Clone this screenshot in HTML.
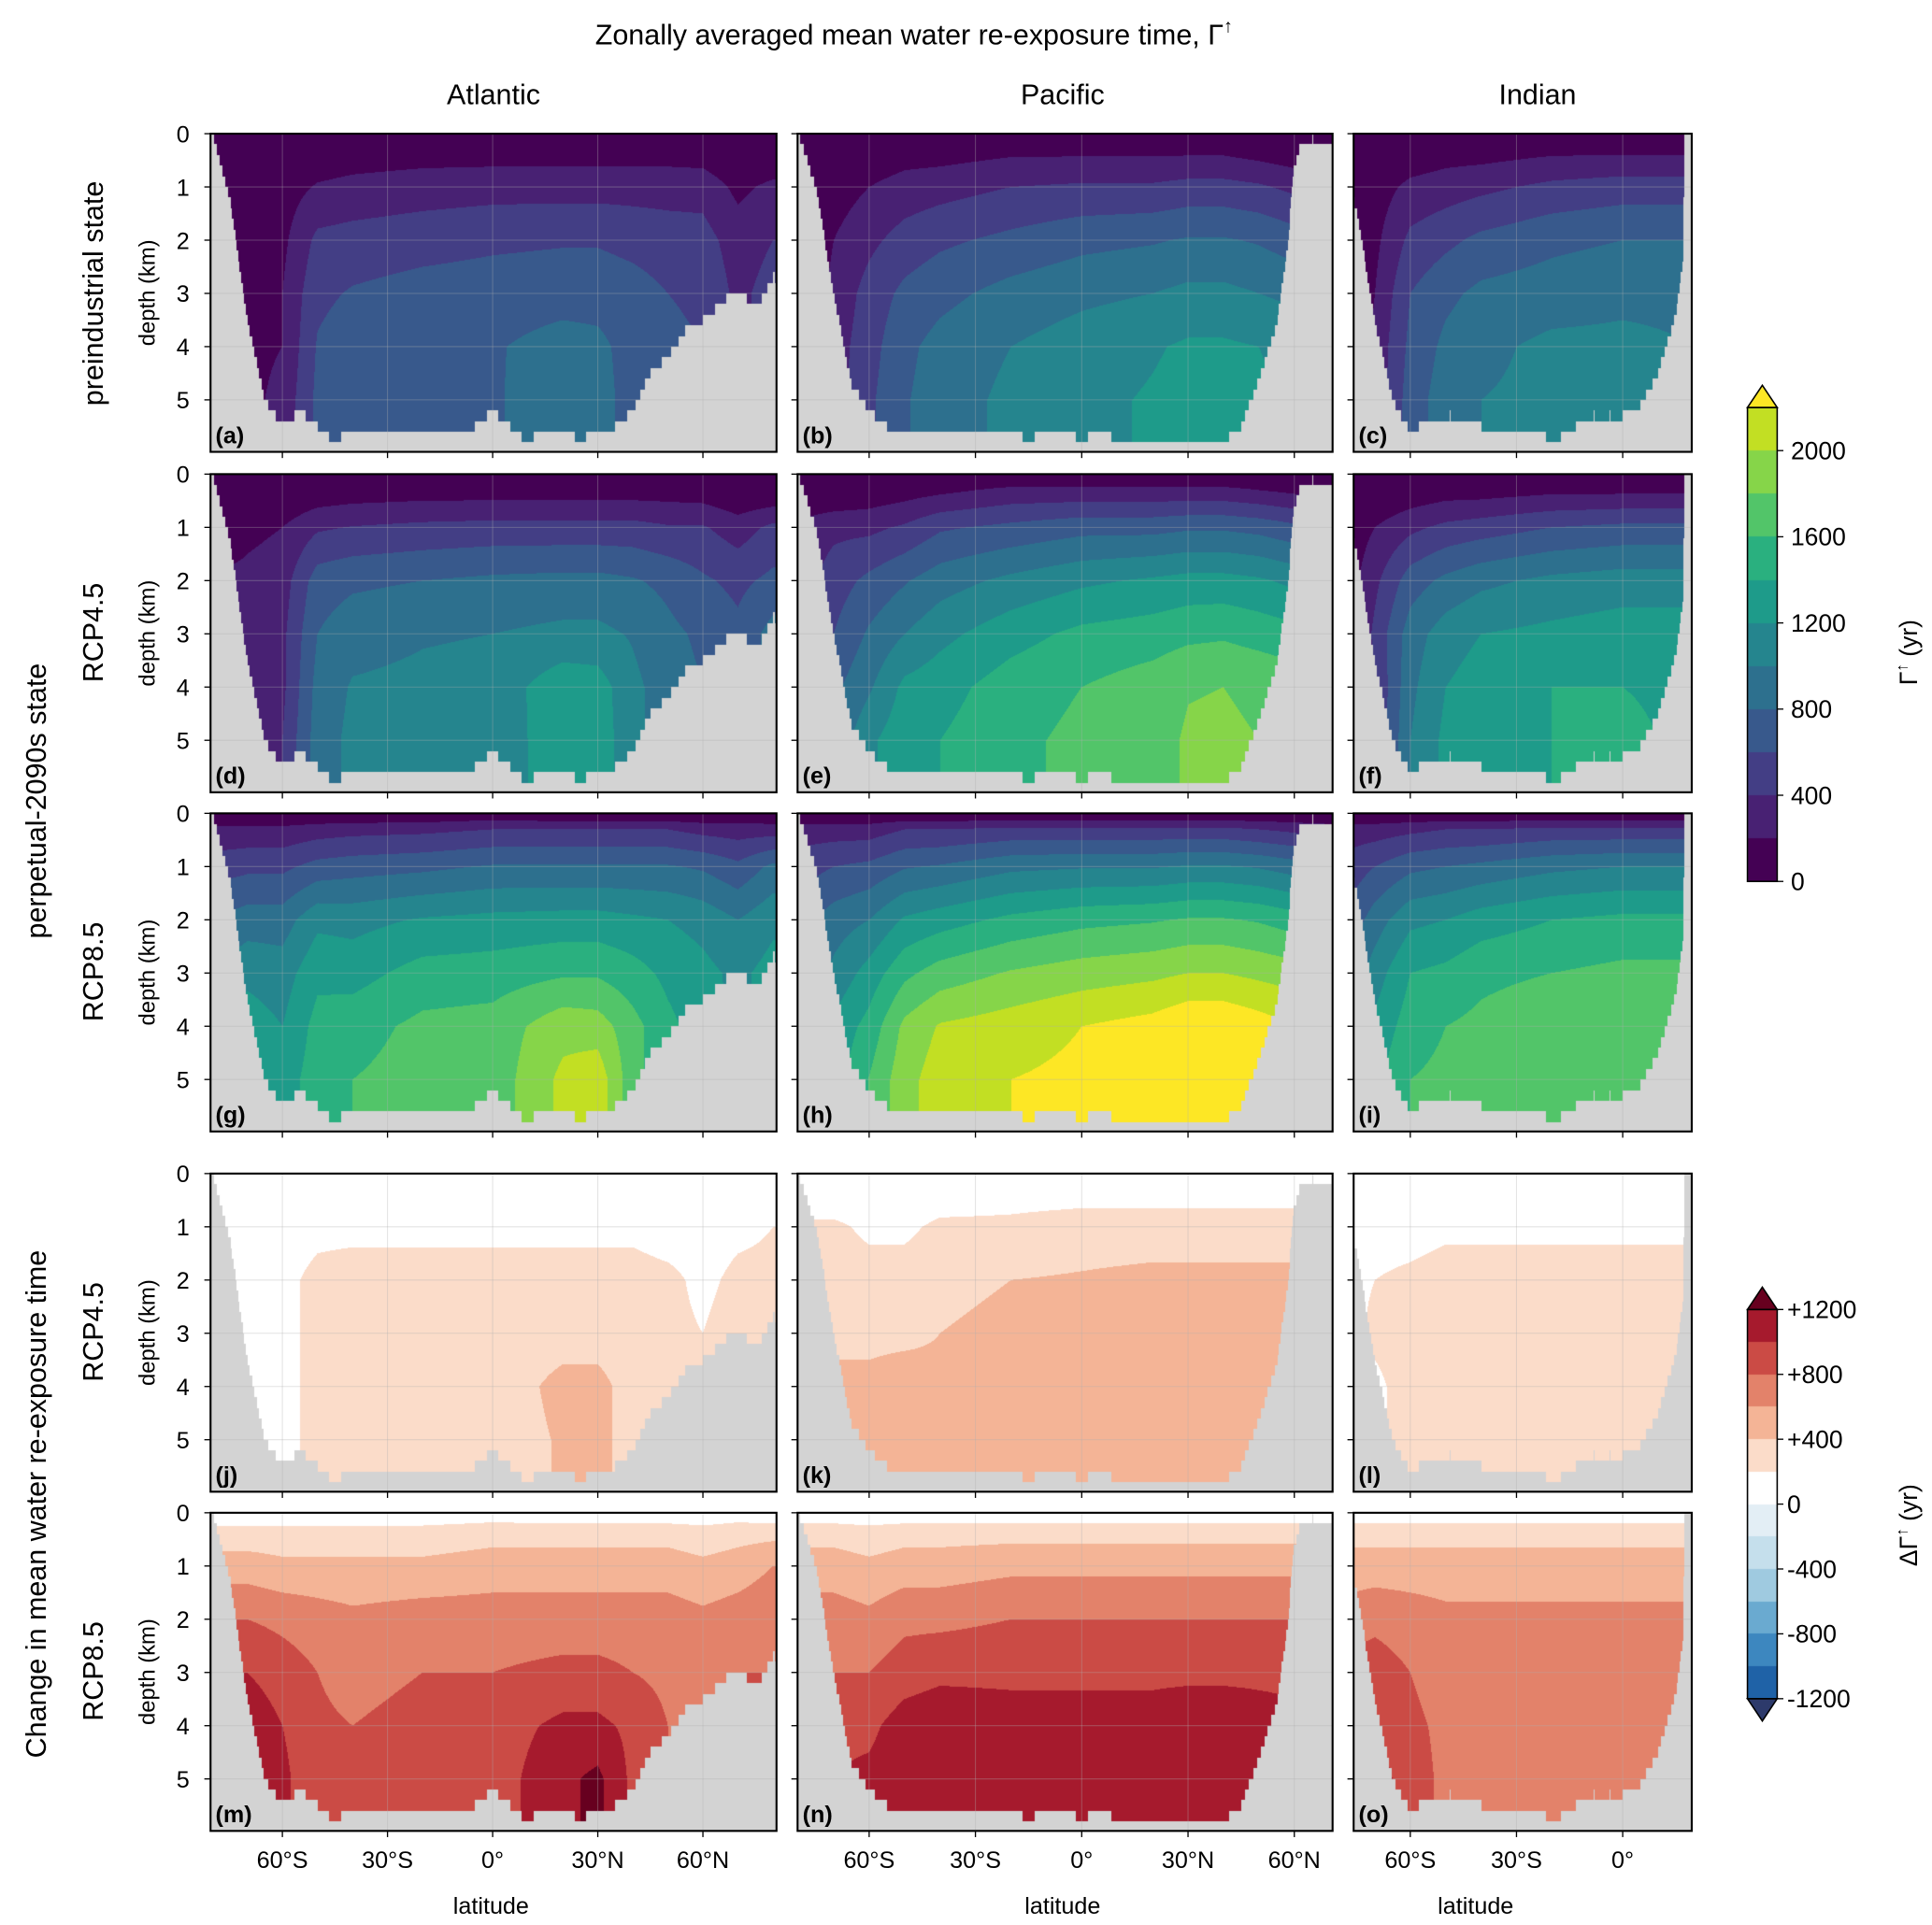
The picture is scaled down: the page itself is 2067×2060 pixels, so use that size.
<!DOCTYPE html>
<html><head><meta charset="utf-8">
<style>
html,body{margin:0;padding:0;background:#fff;}
#wrap{position:relative;width:2067px;height:2060px;overflow:hidden;}
canvas,svg{position:absolute;left:0;top:0;}
svg text{font-family:"Liberation Sans",Arial,sans-serif;fill:#000;}
</style></head>
<body>
<div id="wrap">
<canvas id="cv" width="2067" height="2060"></canvas>
<svg id="sv" width="2067" height="2060" viewBox="0 0 1560 1555" preserveAspectRatio="none"></svg>
</div>
<script>
// ---------- data ----------
const depthNodes = [0, 0.3, 1, 2, 3, 4, 5, 6];
const atlLats = [-80,-70,-60,-50,-40,-20,0,20,30,40,50,60,70,80];
const pacLats = [-80,-70,-60,-50,-40,-20,0,20,30,40,50,60,70];
const indLats = [-76,-70,-60,-50,-40,-20,0,20];

const atlBase = [
[0,0,0,0,0,0,0,0],[0,0,50,100,150,150,150,150],[0,0,100,150,200,200,250,250],
[0,50,220,450,550,620,650,650],[0,80,260,480,620,720,750,750],[0,100,300,520,680,750,780,780],
[0,100,320,560,700,780,780,780],[0,100,320,580,720,880,900,900],[0,100,320,580,720,850,880,880],
[0,100,320,540,680,720,720,720],[0,100,320,500,600,650,650,650],[0,80,320,480,560,600,600,600],
[0,0,150,300,350,350,350,350],[0,0,250,400,480,480,480,480]];
const atlD45 = [
[0,0,0,250,250,250,250,250],[0,0,100,150,150,150,150,150],[0,0,100,150,150,150,150,150],
[0,0,150,250,250,250,250,250],[0,0,150,280,300,300,300,300],[0,0,150,280,300,300,300,300],
[0,0,150,280,300,300,300,300],[0,0,150,280,330,450,420,420],[0,0,150,280,330,450,450,450],
[0,0,150,280,300,330,330,330],[0,0,100,250,250,250,250,250],[0,0,100,150,200,200,200,200],
[0,0,150,250,300,300,300,300],[0,0,200,250,400,400,400,400]];
const atlD85 = [
[0,250,500,800,1000,1100,1200,1200],[0,250,500,800,1000,1150,1250,1250],[0,250,450,750,900,1000,1050,1050],
[0,250,450,700,800,850,850,850],[0,250,450,650,700,800,850,850],[0,250,450,700,800,900,900,900],
[50,300,500,700,800,900,900,900],[0,300,500,700,850,1050,1150,1150],[0,300,500,700,850,1050,1250,1250],
[0,300,500,700,800,950,950,950],[0,300,500,700,750,800,800,800],[0,250,450,650,700,700,700,700],
[50,300,500,700,800,800,800,800],[0,300,600,750,800,800,800,800]];

const pacBase = [
[0,0,0,0,0,0,0,0],[0,0,100,200,250,300,300,300],[0,50,200,350,480,520,560,560],
[0,100,280,480,650,750,780,780],[0,100,320,560,740,870,900,900],[0,150,400,650,870,1000,1050,1050],
[0,150,430,740,950,1100,1150,1150],[0,150,430,780,1000,1180,1220,1220],[0,150,470,820,1050,1230,1260,1260],
[0,150,470,820,1050,1230,1260,1260],[0,100,430,780,1000,1200,1230,1230],[0,50,350,700,950,1150,1180,1180],
[0,0,0,0,0,0,0,0]];
const pacD45 = [
[0,0,250,300,350,400,450,450],[0,0,250,300,350,450,550,550],[0,0,150,300,350,450,600,600],
[0,0,150,300,350,500,550,550],[0,50,250,350,400,450,500,500],[0,100,250,400,450,500,500,500],
[0,100,300,420,500,500,500,500],[0,100,300,450,500,520,520,520],[0,100,300,450,500,560,560,560],
[0,100,300,450,520,570,570,570],[0,100,300,450,520,570,570,570],[0,100,300,450,520,570,570,570],
[0,100,300,450,520,570,570,570]];
const pacD85 = [
[0,300,500,700,800,900,1000,1000],[0,300,500,700,800,950,1000,1000],[0,250,450,650,800,950,1050,1050],
[0,300,500,750,900,1100,1150,1150],[0,300,500,750,950,1150,1200,1200],[0,300,550,800,950,1100,1150,1150],
[0,300,550,800,950,1100,1100,1100],[0,300,550,800,950,1100,1150,1150],[0,300,550,800,950,1150,1180,1180],
[0,300,550,800,950,1150,1180,1180],[0,300,550,800,950,1100,1150,1150],[0,300,550,800,950,1050,1050,1050],
[0,300,550,800,950,1000,1000,1000]];

const indBase = [
[0,0,0,0,0,0,0,0],[0,0,100,150,200,250,250,250],[0,50,250,450,600,650,700,700],
[0,100,300,550,750,850,900,900],[0,100,350,650,850,950,1000,1000],[0,150,450,750,900,1050,1050,1050],
[0,150,500,800,950,1050,1100,1100],[0,150,500,800,950,1000,1000,1000]];
const indD45 = [
[0,0,100,150,150,150,150,150],[0,0,100,200,250,150,150,150],[0,0,100,250,300,300,300,300],
[0,0,150,300,350,350,350,350],[0,0,150,300,350,350,350,350],[0,0,150,300,350,350,350,350],
[0,0,150,300,350,350,350,350],[0,0,150,300,350,350,350,350]];
const indD85 = [
[0,300,500,700,900,1000,1100,1100],[0,300,500,750,900,1000,1100,1100],[0,300,500,700,800,850,900,900],
[0,300,500,650,700,750,750,750],[0,300,500,650,700,700,700,700],[0,300,500,650,700,700,700,700],
[0,300,500,650,700,700,700,700],[0,300,500,650,700,700,700,700]];

// bathymetry (km)
const atlBathyLats = [-80,-75,-70,-65,-60,-55,-50,-45,-40,-35,-30,-25,-20,-15,-10,-5,0,5,10,15,20,25,30,35,40,45,50,55,60,65,70,75,80,85];
const atlBathy = [0,1.2,3.5,5.0,5.5,5.2,5.5,5.8,5.5,5.5,5.5,5.5,5.5,5.5,5.5,5.5,5.2,5.5,5.8,5.5,5.5,5.8,5.5,5.5,5.2,4.5,4.2,3.7,3.5,3.2,2.9,3.3,2.7,2.7];
const pacBathyLats = [-80,-75,-70,-65,-60,-55,-50,-45,-40,-35,-30,-25,-20,-15,-10,-5,0,5,10,15,20,25,30,35,40,45,50,55,58,60,62,65,70,75];
const pacBathy = [0,1.0,3.0,4.7,5.2,5.5,5.5,5.5,5.5,5.5,5.5,5.5,5.5,5.8,5.5,5.5,5.8,5.5,5.8,5.8,5.8,5.8,5.8,5.8,5.8,5.5,4.6,3.6,2.2,0.6,0.2,0.1,0.1,0.1];
const indBathyLats = [-80,-75,-70,-65,-60,-55,-50,-45,-40,-35,-30,-25,-20,-15,-10,-5,0,5,10,15,17,17.5,20,25];
const indBathy = [0,1.5,3.5,5.0,5.6,5.4,5.3,5.3,5.5,5.5,5.5,5.5,5.8,5.6,5.3,5.3,5.3,5.1,4.5,3.4,2.4,0,0,0];

const viridis = ["#440154","#482173","#433e85","#38598c","#2d708e","#25858e","#1e9b8a","#2ab07f","#52c569","#86d549","#c2df23","#fde725"];
const reds = ["#ffffff","#fbdcc9","#f4b496","#e3826a","#cb4b45","#a61a2d","#67001f"];
const viridisTicks = [0,400,800,1200,1600,2000];
const divTicks = ["+1200","+800","+400","0","-400","-800","-1200"];
const divTickVals = [1200,800,400,0,-400,-800,-1200];
const blues = ["#e3eef5","#c5dfec","#9fcae0","#6aaad0","#3d87bf","#1f62a7","#2d3a6b"];

// ---------- layout ----------
const cols = [
 {name:"Atlantic", x0:170, x1:627, latL:-80.5, latR:81, lats:atlLats, bl:atlBathyLats, bd:atlBathy,
  base:atlBase, d45:atlD45, d85:atlD85, ticks:[-60,-30,0,30,60]},
 {name:"Pacific", x0:644, x1:1076, latL:-80.2, latR:70.8, lats:pacLats, bl:pacBathyLats, bd:pacBathy,
  base:pacBase, d45:pacD45, d85:pacD85, ticks:[-60,-30,0,30,60]},
 {name:"Indian", x0:1093, x1:1366, latL:-76, latR:19.5, lats:indLats, bl:indBathyLats, bd:indBathy,
  base:indBase, d45:indD45, d85:indD85, ticks:[-60,-30,0]}
];
const rowsY = [108,383,657,948,1222];
const PH = 257, KM = 43;
const letters = "abcdefghijklmno";
const S = 2067/1560, SY = 2060/1555;

function xOfLat(c, lat){ return c.x0 + (lat - c.latL)/(c.latR - c.latL)*(c.x1 - c.x0); }
function yOfDepth(r, d){ return rowsY[r] + d*KM; }

function idx(arr, v){
  if (v <= arr[0]) return [0,0];
  for (let i=0;i<arr.length-1;i++) if (v <= arr[i+1]) return [i,(v-arr[i])/(arr[i+1]-arr[i])];
  return [arr.length-2,1];
}
function field(grid, lats, lat, d){
  const [i,fi] = idx(lats, lat), [j,fj] = idx(depthNodes, d);
  const a = grid[i][j], b = grid[i][j+1], c = grid[i+1][j], e = grid[i+1][j+1];
  return (a*(1-fj)+b*fj)*(1-fi) + (c*(1-fj)+e*fj)*fi;
}
function bottom(c, lat){
  const [i,f] = idx(c.bl, lat);
  const v = c.bd[i]*(1-f) + c.bd[i+1]*f;
  return Math.round(v*5)/5;
}
function hex(h){ return [parseInt(h.slice(1,3),16),parseInt(h.slice(3,5),16),parseInt(h.slice(5,7),16)]; }
const virRGB = viridis.map(hex), redRGB = reds.map(hex), bluRGB = blues.map(hex);
const LAND = [211,211,211];

// ---------- draw fields ----------
const cv = document.getElementById('cv');
const ctx = cv.getContext('2d');
const img = ctx.createImageData(2067,2060);
const D = img.data;
for (let px=0; px<2067*2060*4; px++) D[px]=255;
for (let r=0;r<5;r++){
  for (const c of cols){
    const X0 = Math.round(c.x0*S), X1 = Math.round(c.x1*S);
    const Y0 = Math.round(rowsY[r]*SY), Y1 = Math.round((rowsY[r]+PH)*SY);
    for (let X=X0; X<X1; X++){
      const lat = c.latL + ((X+0.5)/S - c.x0)/(c.x1-c.x0)*(c.latR-c.latL);
      const bot = bottom(c, lat);
      for (let Y=Y0; Y<Y1; Y++){
        const d = ((Y+0.5)/SY - rowsY[r])/KM;
        let col;
        if (d > bot) col = LAND;
        else {
          const b = field(c.base, c.lats, lat, d);
          if (r===0) col = virRGB[Math.max(0,Math.min(11,Math.floor(b/200)))];
          else if (r===1) col = virRGB[Math.max(0,Math.min(11,Math.floor((b+field(c.d45,c.lats,lat,d))/200)))];
          else if (r===2) col = virRGB[Math.max(0,Math.min(11,Math.floor((b+field(c.d85,c.lats,lat,d))/200)))];
          else {
            const dv = field(r===3?c.d45:c.d85, c.lats, lat, d);
            if (dv >= 0) col = redRGB[Math.min(6,Math.floor(dv/200))];
            else col = bluRGB[Math.min(6,Math.floor(-dv/200))];
          }
        }
        const k = (Y*2067+X)*4;
        D[k]=col[0]; D[k+1]=col[1]; D[k+2]=col[2]; D[k+3]=255;
      }
    }
  }
}
function fillRectImg(x0,y0,x1,y1,col){
  for (let Y=Math.round(y0*SY); Y<Math.round(y1*SY); Y++)
    for (let X=Math.round(x0*S); X<Math.round(x1*S); X++){
      const k=(Y*2067+X)*4; D[k]=col[0];D[k+1]=col[1];D[k+2]=col[2];
    }
}
const cbx0=1411, cbx1=1435, cb1bot=712, cbStep=69.6/2;
for (let i=0;i<11;i++) fillRectImg(cbx0, cb1bot-(i+1)*cbStep, cbx1, cb1bot-i*cbStep, virRGB[i]);
const cb2zero=1215, cb2step=26.2;
for (let i=0;i<6;i++){
  fillRectImg(cbx0, cb2zero-(i+1)*cb2step, cbx1, cb2zero-i*cb2step, redRGB[i]);
  fillRectImg(cbx0, cb2zero+i*cb2step, cbx1, cb2zero+(i+1)*cb2step, bluRGB[i]);
}
ctx.putImageData(img,0,0);

// ---------- SVG annotations ----------
const NS = "http://www.w3.org/2000/svg";
const sv = document.getElementById('sv');
function el(tag, attrs, parent){
  const e = document.createElementNS(NS, tag);
  for (const k in attrs) e.setAttribute(k, attrs[k]);
  (parent||sv).appendChild(e); return e;
}
function txt(s, x, y, size, opts){
  opts = opts||{};
  const t = el('text', {x:x, y:y, 'font-size':size, 'text-anchor':opts.anchor||'middle', 'font-weight':opts.bold?'bold':'normal'});
  if (opts.rot) t.setAttribute('transform','rotate(-90 '+x+' '+y+')');
  t.textContent = s; return t;
}

let t = txt('Zonally averaged mean water re-exposure time, Γ', 738, 36, 23);


let sup = el('tspan',{'font-size':15,dy:-10},t); sup.textContent='↑';

for (const c of cols){
  t = txt(c.name, (c.x0+c.x1)/2 - (c.name==='Indian'? -14:0) - (c.name==='Atlantic'?0:2), 84, 23);
  
  
}

let L = 0;
for (let r=0;r<5;r++){
  for (let ci=0; ci<3; ci++){
    const c = cols[ci];
    const g = el('g',{});
    
    
    for (const lt of c.ticks){
      const x = xOfLat(c, lt);
      el('line',{x1:x,x2:x,y1:rowsY[r],y2:rowsY[r]+PH,stroke:'#b0b0b0','stroke-width':0.8,'stroke-opacity':0.35},g);
      el('line',{x1:x,x2:x,y1:rowsY[r]+PH,y2:rowsY[r]+PH+5,stroke:'#000','stroke-width':1},g);
    }
    for (let d=0; d<=5; d++){
      const y = yOfDepth(r,d);
      el('line',{x1:c.x0,x2:c.x1,y1:y,y2:y,stroke:'#b0b0b0','stroke-width':0.8,'stroke-opacity':0.35},g);
      el('line',{x1:c.x0-5,x2:c.x0,y1:y,y2:y,stroke:'#000','stroke-width':1},g);
    }
    el('rect',{x:c.x0,y:rowsY[r],width:c.x1-c.x0,height:PH,fill:'none',stroke:'#000','stroke-width':1.6},g);
    const lb = txt('('+letters[L]+')', c.x0+4, rowsY[r]+PH-7, 19, {anchor:'start', bold:true});
    
    
    L++;
  }
  for (let d=0; d<=5; d++){
    const tk = txt(String(d), 153, yOfDepth(r,d)+7, 19, {anchor:'end'});
    
    
  }
  const yl = txt('depth (km)', 125, rowsY[r]+PH/2, 18, {rot:true});
  
  
}
const rowLabels = [["preindustrial state",237],["RCP4.5",511],["RCP8.5",785],["RCP4.5",1076],["RCP8.5",1350]];
for (const [s,y] of rowLabels){
  t = txt(s, 83, y, 23, {rot:true});
  
  
}
t = txt('perpetual-2090s state', 37, 647, 23, {rot:true});


t = txt('Change in mean water re-exposure time', 37, 1215, 23, {rot:true});



function latLabel(v){ return v===0 ? '0°' : Math.abs(v)+'°'+(v<0?'S':'N'); }
for (const c of cols){
  for (const lt of c.ticks){
    t = txt(latLabel(lt), xOfLat(c,lt), 1509, 19);
    
    
  }
  t = txt('latitude', (c.x0+c.x1)/2 + (c.name==='Indian'?-38:-2), 1546, 19);
  
  
}

const cb1 = el('g',{});


const cbTop1 = cb1bot - 11*cbStep;
el('polygon',{points:`${cbx0},${cbTop1} ${(cbx0+cbx1)/2},${cbTop1-18} ${cbx1},${cbTop1}`,fill:viridis[11],stroke:'#000','stroke-width':1.2},cb1);
el('rect',{x:cbx0,y:cbTop1,width:cbx1-cbx0,height:cb1bot-cbTop1,fill:'none',stroke:'#000','stroke-width':1.2},cb1);
for (const v of viridisTicks){
  const y = cb1bot - v/200*cbStep;
  el('line',{x1:cbx1,x2:cbx1+5,y1:y,y2:y,stroke:'#000','stroke-width':1},cb1);
  t = txt(String(v), cbx1+11, y+7, 20, {anchor:'start'});
  
  
}
t = txt('Γ', 1548, 527, 20, {rot:true});


sup = el('tspan',{'font-size':13,dy:-8},t); sup.textContent='↑';
let ts = el('tspan',{dy:8},t); ts.textContent=' (yr)';

const cb2 = el('g',{});


const top2 = cb2zero-6*cb2step, bot2 = cb2zero+6*cb2step;
el('polygon',{points:`${cbx0},${top2} ${(cbx0+cbx1)/2},${top2-18} ${cbx1},${top2}`,fill:reds[6],stroke:'#000','stroke-width':1.2},cb2);
el('polygon',{points:`${cbx0},${bot2} ${(cbx0+cbx1)/2},${bot2+18} ${cbx1},${bot2}`,fill:blues[6],stroke:'#000','stroke-width':1.2},cb2);
el('rect',{x:cbx0,y:top2,width:cbx1-cbx0,height:bot2-top2,fill:'none',stroke:'#000','stroke-width':1.2},cb2);
for (let i=0;i<divTicks.length;i++){
  const y = cb2zero - divTickVals[i]/200*cb2step;
  el('line',{x1:cbx1,x2:cbx1+5,y1:y,y2:y,stroke:'#000','stroke-width':1},cb2);
  t = txt(divTicks[i], cbx1+8, y+7, 20, {anchor:'start'});
  
  
}
t = txt('ΔΓ', 1548, 1232, 20, {rot:true});


sup = el('tspan',{'font-size':13,dy:-8},t); sup.textContent='↑';
ts = el('tspan',{dy:8},t); ts.textContent=' (yr)';
</script>
</body></html>
